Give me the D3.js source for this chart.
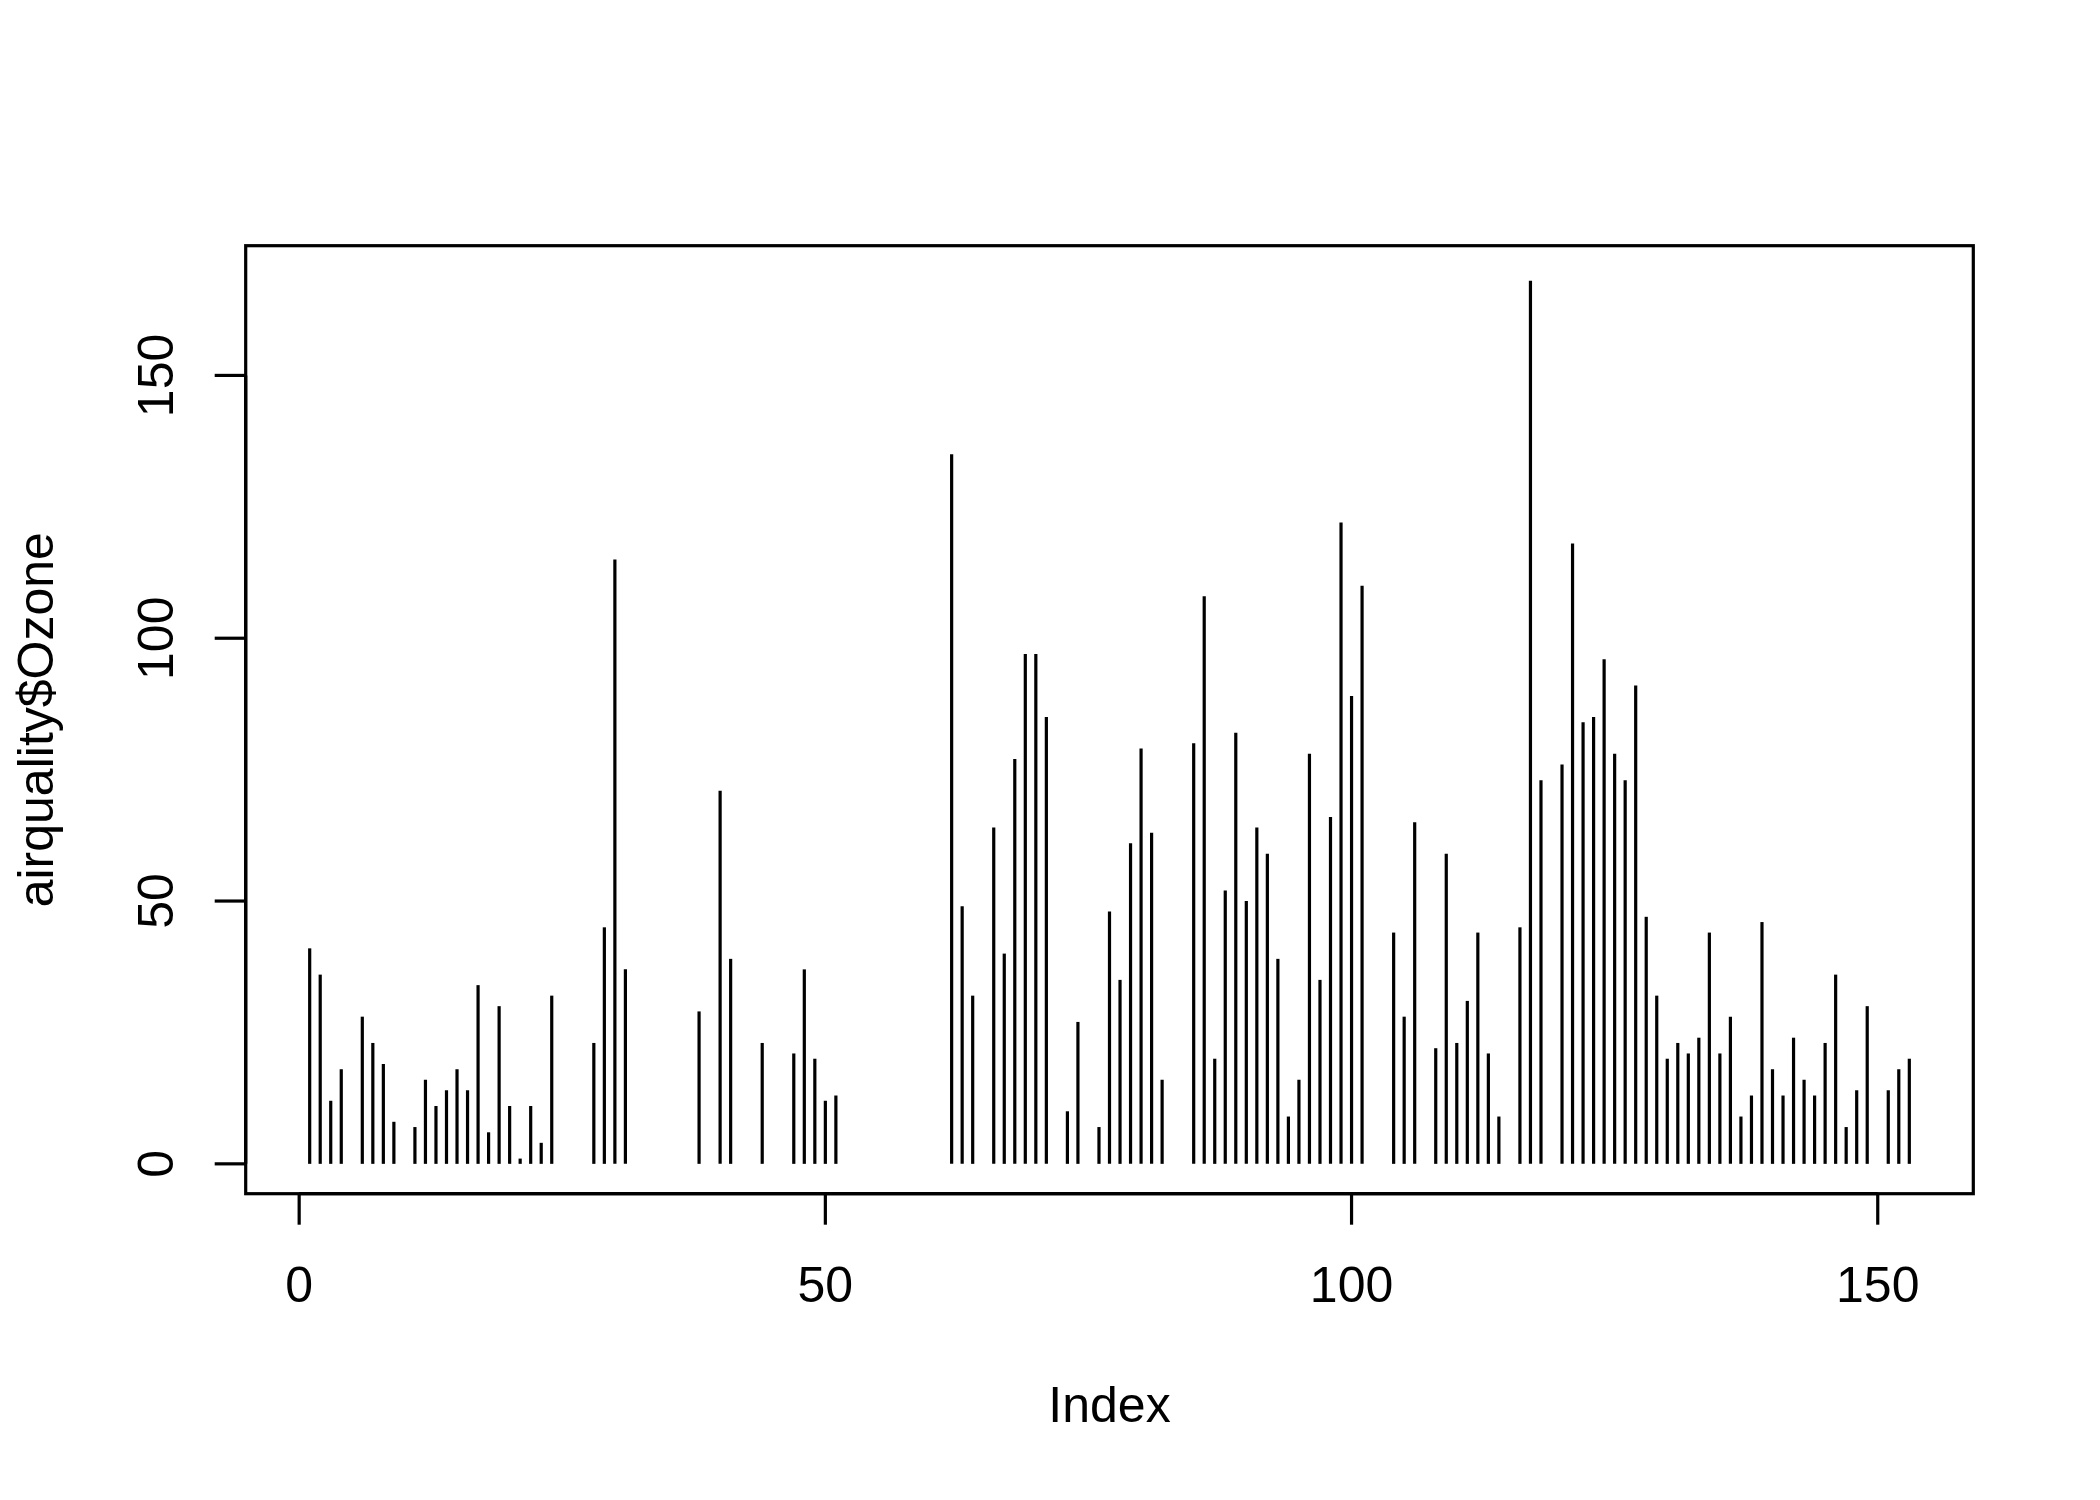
<!DOCTYPE html>
<html><head><meta charset="utf-8">
<script src="https://cdn.jsdelivr.net/npm/d3@7"></script>
<style>body{margin:0;background:#fff}svg{display:block}</style>
</head><body>
<script>
const ozone = [41,36,12,18,null,28,23,19,8,null,7,16,11,14,18,14,34,6,30,11,1,11,4,32,null,null,null,23,45,115,37,null,null,null,null,null,null,29,null,71,39,null,null,23,null,null,21,37,20,12,13,null,null,null,null,null,null,null,null,null,null,135,49,32,null,64,40,77,97,97,85,null,10,27,null,7,48,35,61,79,63,16,null,null,80,108,20,52,82,50,64,59,39,9,16,78,35,66,122,89,110,null,null,44,28,65,null,22,59,23,31,44,21,9,null,45,168,73,null,76,118,84,85,96,78,73,91,47,32,20,23,21,24,44,21,28,9,13,46,18,13,24,16,13,23,36,7,14,30,null,14,18,20];
const xTicks = [0,50,100,150];
const yTicks = [0,50,100,150];
const xLabel = "Index";
const yLabel = "airquality$Ozone";

const W = 2100, H = 1500;
const L = 245.7, R = 1973.3, T = 245.7, B = 1193.7;
const n = ozone.length;
const vals = ozone.filter(v => v != null);
const ymin = d3.min(vals), ymax = d3.max(vals);
const xs = (n - 1) * 0.04, ysp = (ymax - ymin) * 0.04;
const x = d3.scaleLinear().domain([1 - xs, n + xs]).range([L, R]);
const y = d3.scaleLinear().domain([ymin - ysp, ymax + ysp]).range([B, T]);

const svg = d3.select("body").append("svg").attr("width", W).attr("height", H);
const font = "'Liberation Sans', Arial, Helvetica, sans-serif";
const fs = 50;

svg.append("g").selectAll("line")
  .data(ozone.map((v, i) => ({i: i + 1, v})).filter(d => d.v != null))
  .join("line")
  .attr("x1", d => x(d.i)).attr("x2", d => x(d.i))
  .attr("y1", y(0)).attr("y2", d => y(d.v))
  .attr("stroke", "#000").attr("stroke-width", 3.2);

svg.append("rect").attr("x", L).attr("y", T).attr("width", R - L).attr("height", B - T)
  .attr("fill", "none").attr("stroke", "#000").attr("stroke-width", 3.2);

// x axis
const gx = svg.append("g");
gx.append("line").attr("x1", x(xTicks[0])).attr("x2", x(xTicks[xTicks.length-1]))
  .attr("y1", B).attr("y2", B).attr("stroke", "#000").attr("stroke-width", 3.2);
gx.selectAll("line.t").data(xTicks).join("line").attr("class","t")
  .attr("x1", d => x(d)).attr("x2", d => x(d)).attr("y1", B).attr("y2", B + 31)
  .attr("stroke", "#000").attr("stroke-width", 3.2);
gx.selectAll("text").data(xTicks).join("text")
  .attr("x", d => x(d)).attr("y", 1301.5).attr("text-anchor", "middle")
  .attr("font-family", font).attr("font-size", fs).text(d => d);

// y axis
const gy = svg.append("g");
gy.append("line").attr("x1", L).attr("x2", L)
  .attr("y1", y(yTicks[0])).attr("y2", y(yTicks[yTicks.length-1])).attr("stroke", "#000").attr("stroke-width", 3.2);
gy.selectAll("line.t").data(yTicks).join("line").attr("class","t")
  .attr("x1", L - 31).attr("x2", L).attr("y1", d => y(d)).attr("y2", d => y(d))
  .attr("stroke", "#000").attr("stroke-width", 3.2);
gy.selectAll("text").data(yTicks).join("text")
  .attr("transform", d => `translate(173.3,${y(d)}) rotate(-90)`).attr("text-anchor", "middle")
  .attr("font-family", font).attr("font-size", fs).text(d => d);

svg.append("text").attr("x", (L + R) / 2).attr("y", 1421.5).attr("text-anchor", "middle")
  .attr("font-family", font).attr("font-size", fs).text(xLabel);
svg.append("text").attr("transform", `translate(53.3,${(T + B) / 2}) rotate(-90)`).attr("text-anchor", "middle")
  .attr("font-family", font).attr("font-size", fs).text(yLabel);
</script>
</body></html>
